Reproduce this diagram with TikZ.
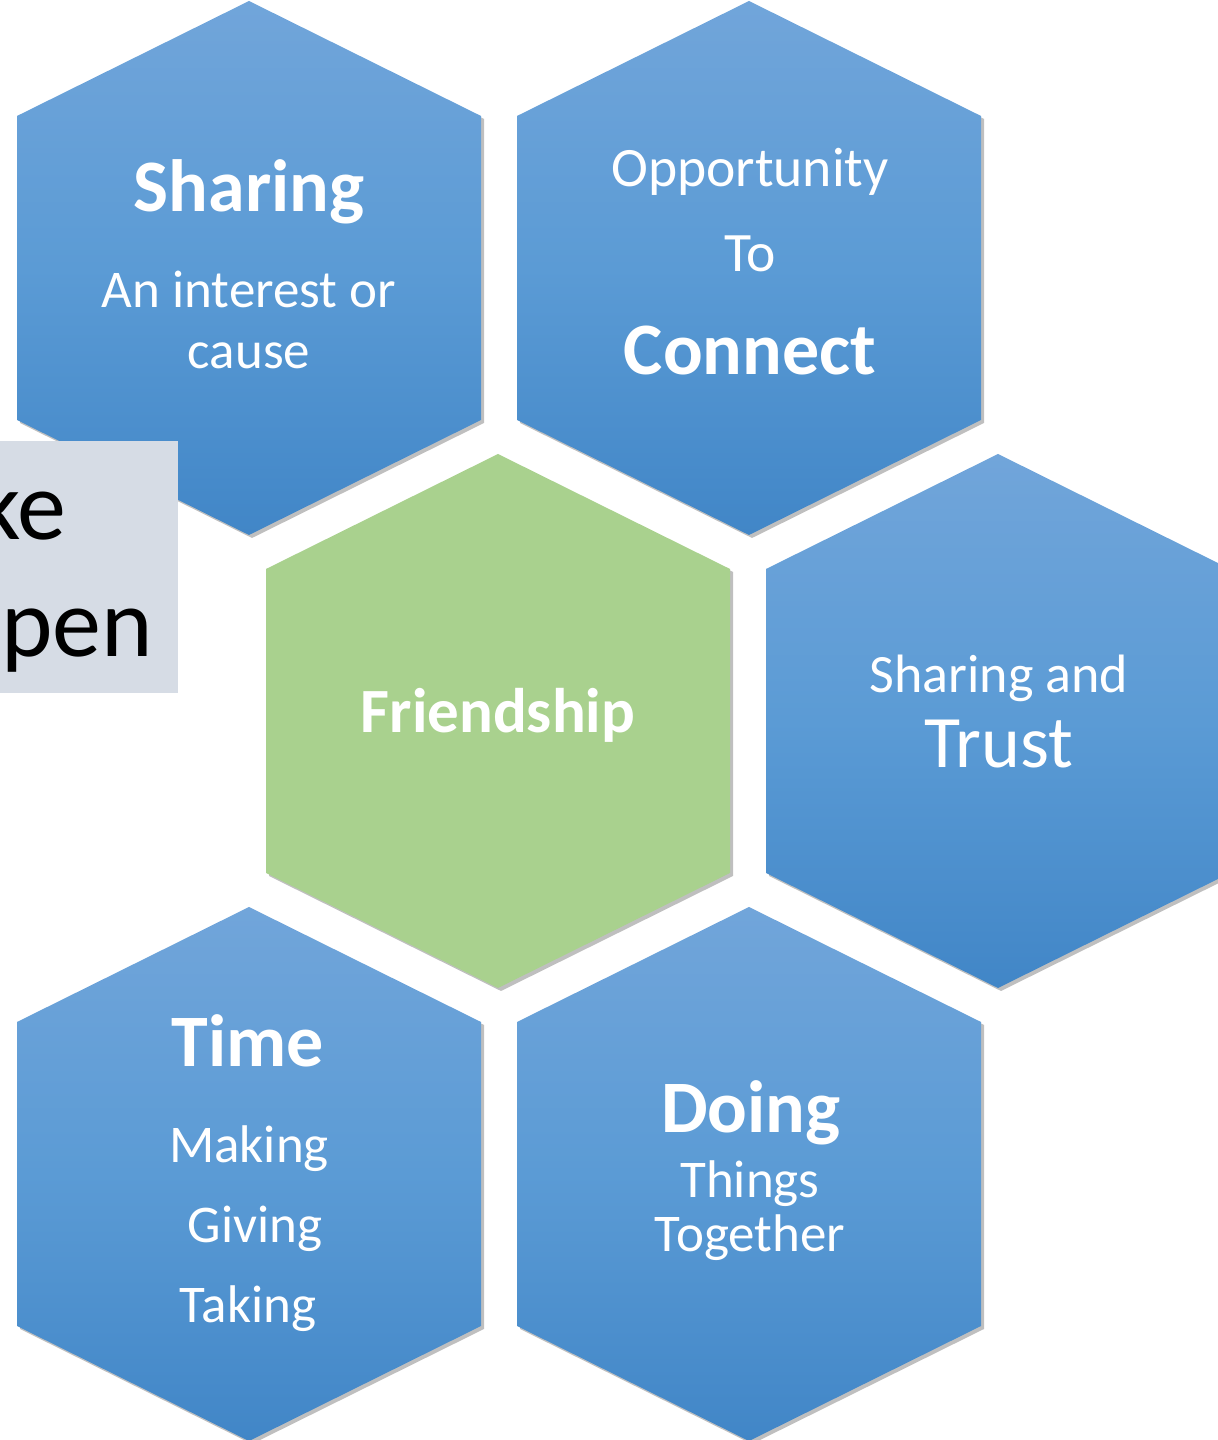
\documentclass[tikz,border=0pt]{standalone}
\usepackage{fontspec}
\setmainfont{Carlito}
\usetikzlibrary{shadows,positioning}

\definecolor{hextop}{RGB}{113,165,218}
\definecolor{hexmid}{RGB}{91,155,213}
\definecolor{hexbot}{RGB}{65,134,199}
\definecolor{friendgreen}{RGB}{169,209,142}
\definecolor{notegrey}{RGB}{214,220,229}

\tikzset{
  hexshadow/.style={drop shadow={shadow xshift=1.5pt,shadow yshift=-1.5pt,opacity=0.25,fill=black}},
  hexblue/.style={hexshadow,top color=hextop,bottom color=hexbot,middle color=hexmid},
  hexgreen/.style={hexshadow,fill=friendgreen},
  hextext/.style={text=white,inner sep=0pt,anchor=base},
  headword/.style={hextext,font=\fontsize{37}{39}\selectfont\bfseries},
  subword/.style={hextext,font=\fontsize{26.5}{28}\selectfont},
}

\begin{document}
\begin{tikzpicture}[x=0.5pt,y=0.5pt]
  \useasboundingbox (0,0) rectangle (1217,1440);
  % blue cells, then the green one in the middle
  \foreach \cx/\cy in {249/1172,749/1172,998/719,249/266,749/266}{
    \path[hexblue] ([shift={(0,267)}]\cx,\cy) -- ++(232,-115) -- ++(0,-304) -- ++(-232,-115) -- ++(-232,115) -- ++(0,304) -- cycle;
  }
  \path[hexgreen] (498,986) -- ++(232,-115) -- ++(0,-304) -- ++(-232,-115) -- ++(-232,115) -- ++(0,304) -- cycle;
  % note box on the left, partly hidden
  \fill[notegrey] (0,747) rectangle (178,999);
  \node[inner sep=0pt,anchor=base west,font=\fontsize{49}{50}\selectfont] (noteA) at (-24,900) {ke};
  \node[inner sep=0pt,anchor=base west,font=\fontsize{49}{50}\selectfont] (noteB) at (1,783) {pen};
  % top left
  \node[headword] (sharing) at (249,1228) {Sharing};
  \node[subword] (interest) at (249,1132) {An interest or};
  \node[subword] (cause) at (249,1071) {cause};
  % top right
  \node[subword,font=\fontsize{27.8}{29}\selectfont] (opportunity) at (750,1253) {Opportunity};
  \node[subword,font=\fontsize{27.8}{29}\selectfont] (to) at (750,1168) {To};
  \node[headword] (connect) at (750,1065) {Connect};
  % middle
  \node[headword,font=\fontsize{31.5}{33}\selectfont\bfseries] (friendship) at (498,707) {Friendship};
  % right
  \node[subword,font=\fontsize{27}{29}\selectfont] (sharingand) at (999,747) {Sharing and};
  \node[subword,font=\fontsize{37}{39}\selectfont] (trust) at (999,672) {Trust};
  % bottom left
  \node[headword] (time) at (248,373) {Time};
  \node[subword] (making) at (249,277) {Making};
  \node[subword] (giving) at (255,197) {Giving};
  \node[subword] (taking) at (248,117) {Taking};
  % bottom right
  \node[headword] (doing) at (751,307) {Doing};
  \node[subword] (things) at (750,242) {Things};
  \node[subword] (together) at (750,188) {Together};
\end{tikzpicture}
\end{document}
